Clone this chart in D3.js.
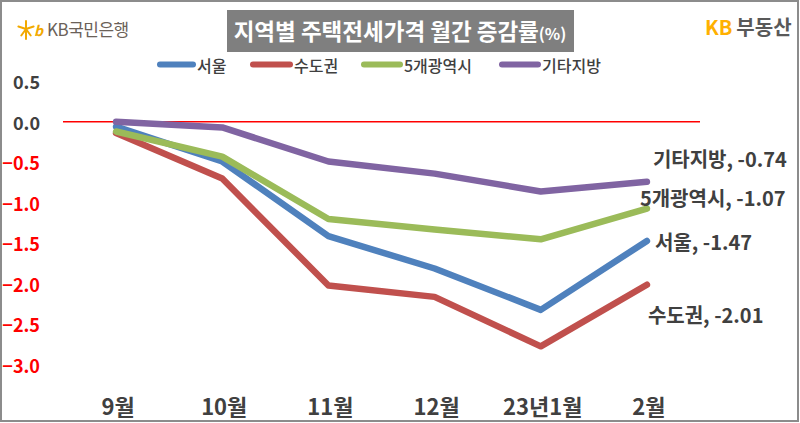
<!DOCTYPE html>
<html>
<head>
<meta charset="utf-8">
<script src="https://cdn.jsdelivr.net/npm/d3@7"></script>
<style>
  html, body { margin: 0; padding: 0; background: #fff; }
  svg { display: block; font-family: "Noto Sans CJK KR", "Noto Sans", sans-serif; }
</style>
</head>
<body>
<svg id="chart" width="800" height="423"></svg>
<script>
// ---- data ----
const categories = ["9월", "10월", "11월", "12월", "23년1월", "2월"];
const seriesNames = ["서울", "수도권", "5개광역시", "기타지방"];
const seoul    = [-0.06, -0.49, -1.41, -1.81, -2.32, -1.47];
const capital  = [-0.14, -0.70, -2.02, -2.16, -2.77, -2.01];
const metro5   = [-0.12, -0.43, -1.20, -1.33, -1.45, -1.07];
const regional = [ 0.00, -0.07, -0.49, -0.64, -0.86, -0.74];
const endLabels = ["서울, -1.47", "수도권, -2.01", "5개광역시, -1.07", "기타지방, -0.74"];
const yTicks = [0.5, 0.0, -0.5, -1.0, -1.5, -2.0, -2.5, -3.0];
const chartTitle = "지역별 주택전세가격 월간 증감률";
const titleUnit = "(%)";

const seriesValues = [seoul, capital, metro5, regional];
const colors = ["#4F81BD", "#C0504D", "#9BBB59", "#8064A2"];

const svg = d3.select("#chart");

// background + frame
svg.append("rect").attr("x", 0).attr("y", 0).attr("width", 800).attr("height", 423).attr("fill", "#fff");
svg.append("rect").attr("x", 1).attr("y", 1).attr("width", 797).attr("height", 420)
  .attr("fill", "none").attr("stroke", "#8c8c8c").attr("stroke-width", 2);

// scales
const x = d3.scalePoint().domain(categories).range([63, 700]).padding(0.5);
const y = d3.scaleLinear().domain([-3, 0.5]).range([365, 81.2]);

// y tick labels
svg.append("g").selectAll("text").data(yTicks).join("text")
  .attr("x", 40).attr("y", d => y(d))
  .attr("text-anchor", "end").attr("dominant-baseline", "central")
  .attr("font-size", 18).attr("font-weight", 700)
  .attr("fill", d => d < 0 ? "#FF0000" : "#404040")
  .text(d => d3.format(".1f")(d));

// x labels
svg.append("g").selectAll("text").data(categories).join("text")
  .attr("x", d => x(d) + 2).attr("y", 415)
  .attr("text-anchor", "middle")
  .attr("font-size", 22).attr("font-weight", 700).attr("fill", "#404040")
  .text(d => d);

// zero line
svg.append("line")
  .attr("x1", 63).attr("x2", 700).attr("y1", y(0)).attr("y2", y(0))
  .attr("stroke", "#FF0000").attr("stroke-width", 1.5);

// series lines
const line = d3.line().x((d, i) => x(categories[i])).y(d => y(d));
svg.append("g").selectAll("path").data(seriesValues).join("path")
  .attr("d", d => line(d))
  .attr("fill", "none")
  .attr("stroke", (d, i) => colors[i])
  .attr("stroke-width", 6.5)
  .attr("stroke-linejoin", "round")
  .attr("stroke-linecap", "round");

// end labels
const labelShift = [[8, 9], [1, 38], [-7, -3], [6, -15]];
const last = categories.length - 1;
svg.append("g").selectAll("text").data(seriesValues).join("text")
  .attr("x", (d, i) => x(categories[last]) + labelShift[i][0])
  .attr("y", (d, i) => y(d[last]) + labelShift[i][1])
  .attr("font-size", 20).attr("font-weight", 700).attr("fill", "#404040")
  .text((d, i) => endLabels[i]);

// legend
const legendPos = [[160, 193], [253, 290], [364, 400], [502, 538]];
const lg = svg.append("g");
seriesNames.forEach((name, i) => {
  lg.append("line")
    .attr("x1", legendPos[i][0]).attr("x2", legendPos[i][1])
    .attr("y1", 64.5).attr("y2", 64.5)
    .attr("stroke", colors[i]).attr("stroke-width", 6).attr("stroke-linecap", "round");
  lg.append("text")
    .attr("x", legendPos[i][1] + 4).attr("y", 65)
    .attr("dominant-baseline", "central")
    .attr("font-size", 16).attr("font-weight", 500).attr("fill", "#404040")
    .text(name);
});

// title box
svg.append("rect").attr("x", 227).attr("y", 10).attr("width", 347).attr("height", 42).attr("fill", "#7F7F7F");
const t = svg.append("text").attr("x", 400).attr("y", 40).attr("text-anchor", "middle")
  .attr("fill", "#fff").attr("font-weight", 700);
t.append("tspan").attr("font-size", 22.5).text(chartTitle);
t.append("tspan").attr("font-size", 16).text(titleUnit);

// KB 국민은행 logo
const star = svg.append("g").attr("transform", "translate(26,29)")
  .attr("stroke", "#F2A900").attr("stroke-width", 2).attr("stroke-linecap", "round");
[90, 18, 162, 234, 306].forEach(a => {
  const r = a * Math.PI / 180;
  star.append("line")
    .attr("x1", 0).attr("y1", 0)
    .attr("x2", 8 * Math.cos(r)).attr("y2", -8 * Math.sin(r));
});
star.append("line").attr("x1", 0).attr("y1", 0).attr("x2", 0).attr("y2", 10);
svg.append("text").attr("x", 34).attr("y", 36).attr("font-size", 14).attr("font-weight", 700)
  .attr("fill", "#F2A900").attr("font-style", "italic").text("b");
svg.append("text").attr("x", 47).attr("y", 36).attr("font-size", 17).attr("font-weight", 400)
  .attr("fill", "#6b6158").attr("letter-spacing", -0.5).text("KB국민은행");

// KB 부동산
const kb = svg.append("text").attr("x", 705).attr("y", 35).attr("font-size", 20).attr("font-weight", 700);
kb.append("tspan").attr("fill", "#FFB000").text("KB");
kb.append("tspan").attr("fill", "#595959").attr("dx", 4).text("부동산");
</script>
</body>
</html>
